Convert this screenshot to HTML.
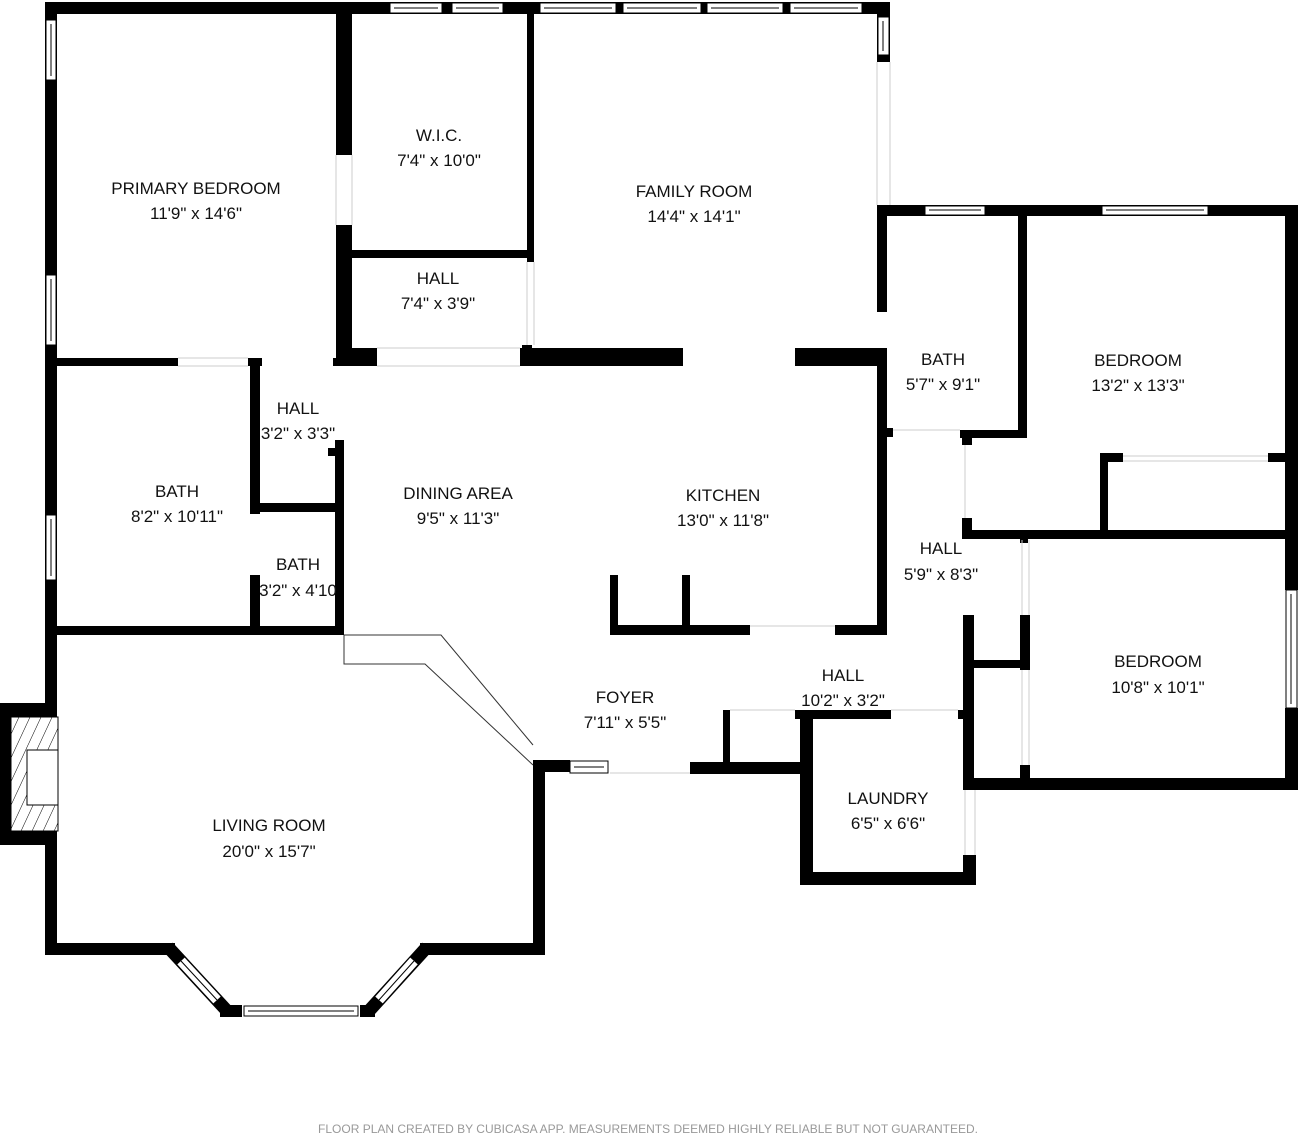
<!DOCTYPE html>
<html><head><meta charset="utf-8"><style>
html,body{margin:0;padding:0;background:#fff}
svg{display:block}
text{font-family:"Liberation Sans",sans-serif;font-size:17px;fill:#111;text-anchor:middle}
.f{font-size:12px;fill:#999}
</style></head><body>
<svg width="1298" height="1134" viewBox="0 0 1298 1134" xmlns="http://www.w3.org/2000/svg">
<defs>
<pattern id="h" width="10" height="10" patternUnits="userSpaceOnUse" patternTransform="rotate(25)">
<rect width="10" height="10" fill="#fff"/>
<line x1="0" y1="0" x2="0" y2="10" stroke="#000" stroke-width="1"/></pattern>
</defs>
<g fill="#000">
<rect x="45" y="2" width="845" height="12"/>
<rect x="45" y="2" width="12" height="953"/>
<rect x="877" y="2" width="13" height="60"/>
<rect x="336" y="14" width="16" height="141"/>
<rect x="336" y="225" width="16" height="141"/>
<rect x="352" y="250" width="180" height="8"/>
<rect x="527" y="14" width="7" height="248"/>
<rect x="522" y="345" width="10" height="10"/>
<rect x="336" y="348" width="41" height="18"/>
<rect x="520" y="348" width="163" height="18"/>
<rect x="795" y="348" width="90" height="18"/>
<rect x="57" y="358" width="121" height="8"/>
<rect x="248" y="358" width="14" height="8"/>
<rect x="333" y="358" width="11" height="8"/>
<rect x="250" y="358" width="10" height="156"/>
<rect x="250" y="575" width="10" height="57"/>
<rect x="250" y="503" width="92" height="9"/>
<rect x="250" y="448" width="10" height="8"/>
<rect x="328" y="448" width="10" height="8"/>
<rect x="335" y="440" width="9" height="195"/>
<rect x="45" y="626" width="299" height="9"/>
<rect x="0" y="703" width="57" height="142"/>
<rect x="45" y="943" width="130" height="12"/>
<rect x="420" y="943" width="125" height="12"/>
<rect x="220" y="1005" width="22" height="12"/>
<rect x="360" y="1005" width="15" height="12"/>
<rect x="533" y="760" width="12" height="195"/>
<rect x="533" y="760" width="37" height="12"/>
<rect x="690" y="762" width="115" height="12"/>
<rect x="723" y="710" width="7" height="60"/>
<rect x="795" y="710" width="96" height="9"/>
<rect x="800" y="713" width="13" height="172"/>
<rect x="800" y="872" width="176" height="13"/>
<rect x="963" y="855" width="13" height="30"/>
<rect x="958" y="710" width="10" height="9"/>
<rect x="877" y="348" width="10" height="286"/>
<rect x="610" y="625" width="140" height="10"/>
<rect x="835" y="625" width="52" height="10"/>
<rect x="610" y="575" width="8" height="60"/>
<rect x="682" y="575" width="8" height="55"/>
<rect x="877" y="205" width="421" height="11"/>
<rect x="877" y="205" width="10" height="107"/>
<rect x="1285" y="205" width="13" height="385"/>
<rect x="1285" y="708" width="13" height="82"/>
<rect x="1018" y="213" width="9" height="225"/>
<rect x="960" y="430" width="67" height="8"/>
<rect x="886" y="428" width="7" height="9"/>
<rect x="962" y="430" width="10" height="15"/>
<rect x="962" y="518" width="10" height="20"/>
<rect x="962" y="530" width="336" height="9"/>
<rect x="1100" y="453" width="8" height="80"/>
<rect x="1100" y="453" width="23" height="9"/>
<rect x="1268" y="453" width="17" height="9"/>
<rect x="963" y="615" width="11" height="175"/>
<rect x="1020" y="615" width="10" height="55"/>
<rect x="1020" y="765" width="10" height="15"/>
<rect x="1020" y="535" width="8" height="8"/>
<rect x="970" y="660" width="58" height="8"/>
<rect x="963" y="778" width="335" height="12"/>
</g>
<g fill="none" stroke-linecap="butt">
<line x1="168" y1="947" x2="228" y2="1012" stroke="#000" stroke-width="13"/>
<line x1="427" y1="947" x2="368" y2="1012" stroke="#000" stroke-width="13"/>
<line x1="180" y1="960" x2="218" y2="1001" stroke="#000" stroke-width="12"/>
<line x1="181" y1="961" x2="217" y2="1000" stroke="#fff" stroke-width="10"/>
<line x1="181" y1="961" x2="217" y2="1000" stroke="#000" stroke-width="1"/>
<line x1="415" y1="960" x2="378" y2="1001" stroke="#000" stroke-width="12"/>
<line x1="414" y1="961" x2="379" y2="1000" stroke="#fff" stroke-width="10"/>
<line x1="414" y1="961" x2="379" y2="1000" stroke="#000" stroke-width="1"/>
</g>
<g fill="#fff" stroke="#000" stroke-width="1">
<rect x="390" y="3" width="52" height="10"/><line x1="394" y1="8" x2="438" y2="8"/>
<rect x="452" y="3" width="51" height="10"/><line x1="456" y1="8" x2="499" y2="8"/>
<rect x="540" y="3" width="76" height="10"/><line x1="544" y1="8" x2="612" y2="8"/>
<rect x="623" y="3" width="78" height="10"/><line x1="627" y1="8" x2="697" y2="8"/>
<rect x="707" y="3" width="76" height="10"/><line x1="711" y1="8" x2="779" y2="8"/>
<rect x="790" y="3" width="72" height="10"/><line x1="794" y1="8" x2="858" y2="8"/>
<rect x="878" y="17" width="11" height="38"/><line x1="883" y1="21" x2="883" y2="51"/>
<rect x="46" y="20" width="10" height="60"/><line x1="51" y1="24" x2="51" y2="76"/>
<rect x="46" y="275" width="10" height="70"/><line x1="51" y1="279" x2="51" y2="341"/>
<rect x="46" y="515" width="10" height="65"/><line x1="51" y1="519" x2="51" y2="576"/>
<rect x="925" y="206" width="60" height="9"/><line x1="929" y1="210" x2="981" y2="210"/>
<rect x="1102" y="206" width="106" height="9"/><line x1="1106" y1="210" x2="1204" y2="210"/>
<rect x="1286" y="590" width="11" height="118"/><line x1="1291" y1="594" x2="1291" y2="704"/>
<rect x="570" y="761" width="38" height="12"/><line x1="574" y1="767" x2="604" y2="767"/>
<rect x="244" y="1006" width="114" height="10"/><line x1="248" y1="1011" x2="354" y2="1011"/>
<rect x="11" y="717" width="47" height="114" fill="url(#h)"/>
<rect x="27" y="750" width="31" height="55" fill="#fff"/>
</g>
<g stroke="#ccc" stroke-width="1" fill="none">
<line x1="877" y1="62" x2="877" y2="205"/><line x1="890" y1="62" x2="890" y2="205"/>
<line x1="178" y1="358" x2="248" y2="358"/><line x1="178" y1="366" x2="248" y2="366"/>
<line x1="377" y1="348" x2="520" y2="348"/><line x1="377" y1="366" x2="520" y2="366"/>
<line x1="610" y1="773" x2="690" y2="773"/><line x1="730" y1="710" x2="795" y2="710"/>
<line x1="891" y1="710" x2="958" y2="710"/><line x1="750" y1="626" x2="835" y2="626"/>
<line x1="1123" y1="456" x2="1268" y2="456"/><line x1="1123" y1="461" x2="1268" y2="461"/>
<line x1="965" y1="445" x2="965" y2="518"/><line x1="1022" y1="540" x2="1022" y2="615"/><line x1="1029" y1="540" x2="1029" y2="615"/>
<line x1="1022" y1="670" x2="1022" y2="765"/><line x1="1029" y1="670" x2="1029" y2="765"/>
<line x1="965" y1="790" x2="965" y2="855"/><line x1="975" y1="790" x2="975" y2="855"/>
<line x1="336" y1="155" x2="336" y2="225"/><line x1="352" y1="155" x2="352" y2="225"/>
<line x1="527" y1="262" x2="527" y2="345"/><line x1="534" y1="262" x2="534" y2="345"/>
<line x1="893" y1="430" x2="960" y2="430"/>
</g>
<g stroke="#333" stroke-width="1" fill="none">
<polyline points="344,635 441,635 533,745"/>
<polyline points="344,635 344,664 425,664 533,765"/>
</g>
<text x="196" y="194">PRIMARY BEDROOM</text><text x="196" y="219">11'9" x 14'6"</text>
<text x="439" y="141">W.I.C.</text><text x="439" y="166">7'4" x 10'0"</text>
<text x="694" y="197">FAMILY ROOM</text><text x="694" y="222">14'4" x 14'1"</text>
<text x="438" y="284">HALL</text><text x="438" y="309">7'4" x 3'9"</text>
<text x="298" y="414">HALL</text><text x="298" y="439">3'2" x 3'3"</text>
<text x="177" y="497">BATH</text><text x="177" y="522">8'2" x 10'11"</text>
<text x="298" y="570">BATH</text><text x="298" y="596">3'2" x 4'10</text>
<text x="458" y="499">DINING AREA</text><text x="458" y="524">9'5" x 11'3"</text>
<text x="723" y="501">KITCHEN</text><text x="723" y="526">13'0" x 11'8"</text>
<text x="943" y="365">BATH</text><text x="943" y="390">5'7" x 9'1"</text>
<text x="1138" y="366">BEDROOM</text><text x="1138" y="391">13'2" x 13'3"</text>
<text x="941" y="554">HALL</text><text x="941" y="580">5'9" x 8'3"</text>
<text x="1158" y="667">BEDROOM</text><text x="1158" y="693">10'8" x 10'1"</text>
<text x="843" y="681">HALL</text><text x="843" y="706">10'2" x 3'2"</text>
<text x="625" y="703">FOYER</text><text x="625" y="728">7'11" x 5'5"</text>
<text x="888" y="804">LAUNDRY</text><text x="888" y="829">6'5" x 6'6"</text>
<text x="269" y="831">LIVING ROOM</text><text x="269" y="857">20'0" x 15'7"</text>
<text class="f" x="648" y="1133">FLOOR PLAN CREATED BY CUBICASA APP. MEASUREMENTS DEEMED HIGHLY RELIABLE BUT NOT GUARANTEED.</text>
</svg>
</body></html>
